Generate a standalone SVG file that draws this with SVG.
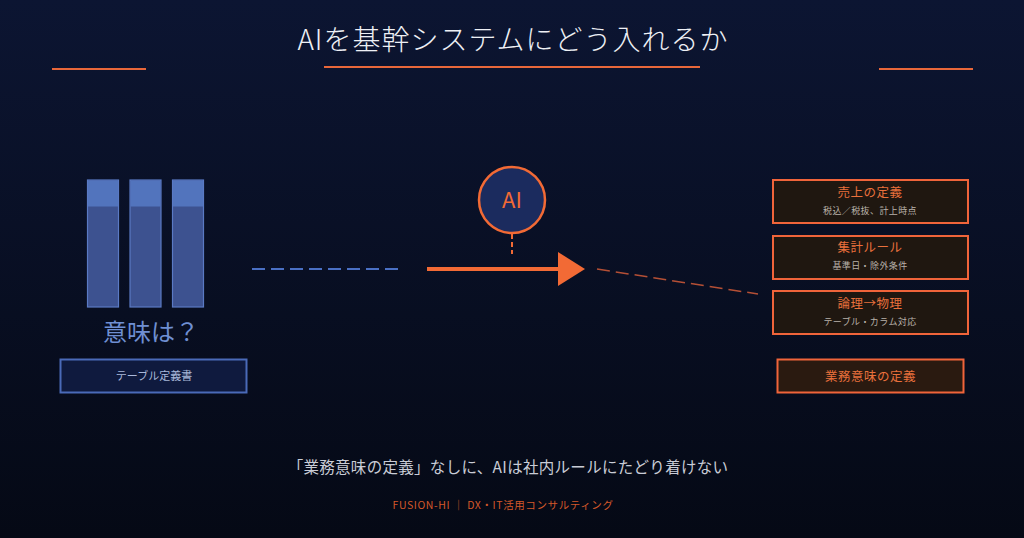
<svg xmlns="http://www.w3.org/2000/svg" width="1024" height="538" viewBox="0 0 1024 538">
<defs>
<linearGradient id="bg" x1="0" y1="0" x2="0" y2="1">
<stop offset="0" stop-color="#0c1532"/>
<stop offset="1" stop-color="#050915"/>
</linearGradient>
<style>
text{font-family:"Noto Sans CJK JP","Noto Sans",sans-serif;}
.deco{stroke:#e8673a;stroke-width:2;}
.bar{fill:#3d5290;stroke:#5a7ac4;stroke-width:1.2;}
.bartop{fill:#5274bd;}
.rbox{fill:#1f1710;stroke:#f0643a;stroke-width:2;}
.rt{fill:#e8703c;font-size:12.5px;text-anchor:middle;letter-spacing:0.5px;}
.rs{fill:#b9b2aa;font-size:9px;text-anchor:middle;letter-spacing:0.4px;}
</style>
</defs>
<rect width="1024" height="538" fill="url(#bg)"/>
<g id="title">
<text x="513" y="50" font-size="28" fill="#eef0f5" text-anchor="middle" font-weight="300" letter-spacing="1">AIを基幹システムにどう入れるか</text>
<line class="deco" x1="52" y1="69" x2="146" y2="69"/>
<line class="deco" x1="324" y1="67" x2="700" y2="67"/>
<line class="deco" x1="879" y1="69" x2="973" y2="69"/>
</g>
<g id="tables">
<rect class="bar" x="87.5" y="180" width="31" height="127"/>
<rect class="bartop" x="88" y="180.5" width="30" height="26"/>
<rect class="bar" x="130" y="180" width="31" height="127"/>
<rect class="bartop" x="130.5" y="180.5" width="30" height="26"/>
<rect class="bar" x="172.5" y="180" width="31" height="127"/>
<rect class="bartop" x="173" y="180.5" width="30" height="26"/>
<text x="151" y="341" font-size="24" fill="#6f8fd2" text-anchor="middle">意味は？</text>
</g>
<g id="table-def">
<rect x="60.5" y="359.5" width="186" height="33" fill="#0f1a3e" stroke="#4a6ab8" stroke-width="2"/>
<text x="154" y="380" font-size="11" fill="#a9b8da" text-anchor="middle">テーブル定義書</text>
</g>
<g id="ai">
<circle cx="512" cy="200" r="33" fill="#1b2b5e" stroke="#f26a35" stroke-width="2.5"/>
<text x="512" y="208" font-size="22" fill="#f26a35" text-anchor="middle">AI</text>
</g>
<g id="connectors">
<line x1="252" y1="269" x2="398" y2="269" stroke="#4a70c4" stroke-width="2" stroke-dasharray="13 6"/>
<line x1="512" y1="234" x2="512" y2="254" stroke="#f26a35" stroke-width="2" stroke-dasharray="5 3"/>
<line x1="427" y1="269" x2="562" y2="269" stroke="#f26a35" stroke-width="4"/>
<polygon points="558,252 585,269 558,286" fill="#f26a35"/>
<line x1="597" y1="269" x2="758" y2="294" stroke="#e0603a" stroke-width="1.5" stroke-dasharray="13 6" opacity="0.8"/>
</g>
<g id="r1">
<rect class="rbox" x="773" y="180" width="195" height="43"/>
<text class="rt" x="870" y="197">売上の定義</text>
<text class="rs" x="870" y="214">税込／税抜、計上時点</text>
</g>
<g id="r2">
<rect class="rbox" x="773" y="236" width="195" height="43"/>
<text class="rt" x="870" y="252">集計ルール</text>
<text class="rs" x="870" y="269">基準日・除外条件</text>
</g>
<g id="r3">
<rect class="rbox" x="773" y="291" width="195" height="43"/>
<text class="rt" x="870" y="308">論理→物理</text>
<text class="rs" x="870" y="325">テーブル・カラム対応</text>
</g>
<g id="r4">
<rect x="777.5" y="359.5" width="186" height="33" fill="#2a1a10" stroke="#f0643a" stroke-width="2"/>
<text x="870.5" y="381" font-size="12.5" fill="#e8703c" text-anchor="middle" letter-spacing="0.5">業務意味の定義</text>
</g>
<g id="footer">
<text x="508" y="473" font-size="15.5" fill="#c9ccd6" text-anchor="middle" letter-spacing="0.3">「業務意味の定義」なしに、AIは社内ルールにたどり着けない</text>
<text x="503" y="509" font-size="10.5" fill="#d3582a" text-anchor="middle" letter-spacing="0.6">FUSION-HI ｜ DX・IT活用コンサルティング</text>
</g>
</svg>
